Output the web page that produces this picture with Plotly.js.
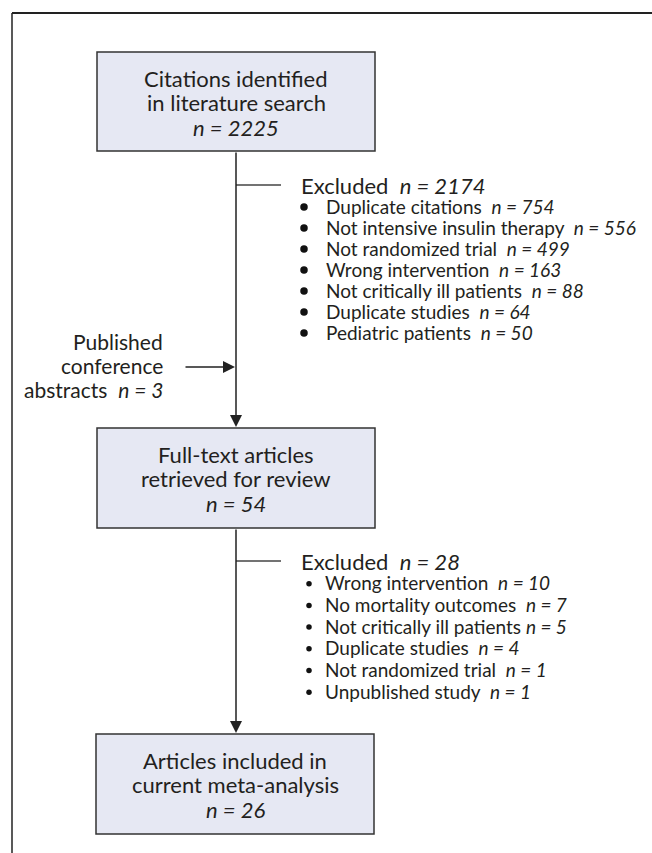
<!DOCTYPE html>
<html><head><meta charset="utf-8">
<script src="https://cdn.plot.ly/plotly-3.0.1.min.js"></script>
<style>html,body{margin:0;padding:0;background:#fff}</style>
</head><body><div id="chart" style="width:652px;height:853px"></div>
<script>
// ---- data ----
const stageLabels = [["Citations identified", "in literature search"],
                     ["Full-text articles", "retrieved for review"],
                     ["Articles included in", "current meta-analysis"]];
const stageN = [2225, 54, 26];
const excl1Total = 2174;
const excl1Reasons = ["Duplicate citations", "Not intensive insulin therapy", "Not randomized trial",
                      "Wrong intervention", "Not critically ill patients", "Duplicate studies", "Pediatric patients"];
const excl1N = [754, 556, 499, 163, 88, 64, 50];
const excl2Total = 28;
const excl2Reasons = ["Wrong intervention", "No mortality outcomes", "Not critically ill patients",
                      "Duplicate studies", "Not randomized trial", "Unpublished study"];
const excl2N = [10, 7, 5, 4, 1, 1];
const addedLabel = ["Published", "conference", "abstracts"];
const addedN = 3;

// ---- layout geometry ----
const FONT = "Lato, 'Open Sans', sans-serif";
const TXT = "#231f20";
const LINE = "#333333";
const cx = 236;
const boxes = [{x0: 97, x1: 375, y0: 52, y1: 151},
               {x0: 97, x1: 375, y0: 428, y1: 528},
               {x0: 96, x1: 374, y0: 734, y1: 834}];
const nb = "\u00a0";
const shapes = [];
const ann = [];
const bulletX = [], bulletY = [], bulletS = [];

// frame
shapes.push({type: "line", xref: "x", yref: "y", x0: 12, x1: 652, y0: 13, y1: 13, line: {color: "#222", width: 2}});
shapes.push({type: "line", xref: "x", yref: "y", x0: 12, x1: 12, y0: 13, y1: 853, line: {color: "#222", width: 1.5}});

boxes.forEach((b, i) => {
  shapes.push({type: "rect", xref: "x", yref: "y", x0: b.x0, x1: b.x1, y0: b.y0, y1: b.y1,
    fillcolor: "#e6e8f3", line: {color: LINE, width: 1.5}});
  const ys = [b.y0 + 26, b.y0 + 50.5, b.y0 + 75];
  const lines = [stageLabels[i][0], stageLabels[i][1], "<i>n = " + stageN[i] + "</i>"];
  lines.forEach((t, k) => ann.push({xref: "x", yref: "y", x: (b.x0 + b.x1) / 2, y: ys[k], text: t,
    showarrow: false, xanchor: "center", yanchor: "middle", font: {family: FONT, size: 22, color: TXT}}));
});

// connector arrows
function arrow(x0, y0, x1, y1) {
  ann.push({xref: "x", yref: "y", axref: "x", ayref: "y", x: x1, y: y1, ax: x0, ay: y0, text: "",
    showarrow: true, arrowhead: 2, arrowsize: 1.6, arrowwidth: 1.5, arrowcolor: "#222"});
}
arrow(cx, boxes[0].y1, cx, boxes[1].y0 - 1);
arrow(cx, boxes[1].y1, cx, boxes[2].y0 - 1);
arrow(184, 367, cx - 1, 367);

// branch lines
[185, 561].forEach(y => shapes.push({type: "line", xref: "x", yref: "y", x0: cx, x1: 281, y0: y, y1: y,
  line: {color: "#444", width: 1.5}}));

// exclusion lists
function list(y0, total, reasons, ns, bx, bsize, textX, step, gaps) {
  ann.push({xref: "x", yref: "y", x: 299, y: y0, text: "Excluded" + nb + nb + "<i>n = " + total + "</i>",
    showarrow: false, xanchor: "left", yanchor: "middle", font: {family: FONT, size: 22, color: TXT}});
  reasons.forEach((r, k) => {
    const y = y0 + step * (k + 1);
    bulletX.push(bx); bulletY.push(y + 1); bulletS.push(bsize);
    ann.push({xref: "x", yref: "y", x: textX, y: y, text: r + gaps[k] + "<i>n = " + ns[k] + "</i>",
      showarrow: false, xanchor: "left", yanchor: "middle", font: {family: FONT, size: 19, color: TXT}});
  });
}
const g2 = nb + nb;
list(185, excl1Total, excl1Reasons, excl1N, 304, 7.5, 324, 21, excl1Reasons.map(() => g2));
list(561, excl2Total, excl2Reasons, excl2N, 309, 5.5, 323, 21.7, [g2, g2, nb, g2, g2, g2]);

// added records
const addedYs = [341, 365, 389];
addedLabel.forEach((t, k) => ann.push({xref: "x", yref: "y", x: 165, y: addedYs[k],
  text: k === 2 ? t + nb + nb + "<i>n = " + addedN + "</i>" : t,
  showarrow: false, xanchor: "right", yanchor: "middle", font: {family: FONT, size: 21, color: TXT}}));

Plotly.newPlot("chart", [{x: bulletX, y: bulletY, type: "scatter", mode: "markers", showlegend: false,
    hoverinfo: "skip", marker: {size: bulletS, color: "#111", opacity: 1, line: {width: 0}}}], {
  width: 652, height: 853,
  margin: {l: 0, r: 0, t: 0, b: 0},
  paper_bgcolor: "#fff", plot_bgcolor: "#fff",
  xaxis: {range: [0, 652], visible: false, fixedrange: true},
  yaxis: {range: [853, 0], visible: false, fixedrange: true},
  shapes: shapes, annotations: ann, showlegend: false
}, {displayModeBar: false, staticPlot: true});
</script></body></html>
